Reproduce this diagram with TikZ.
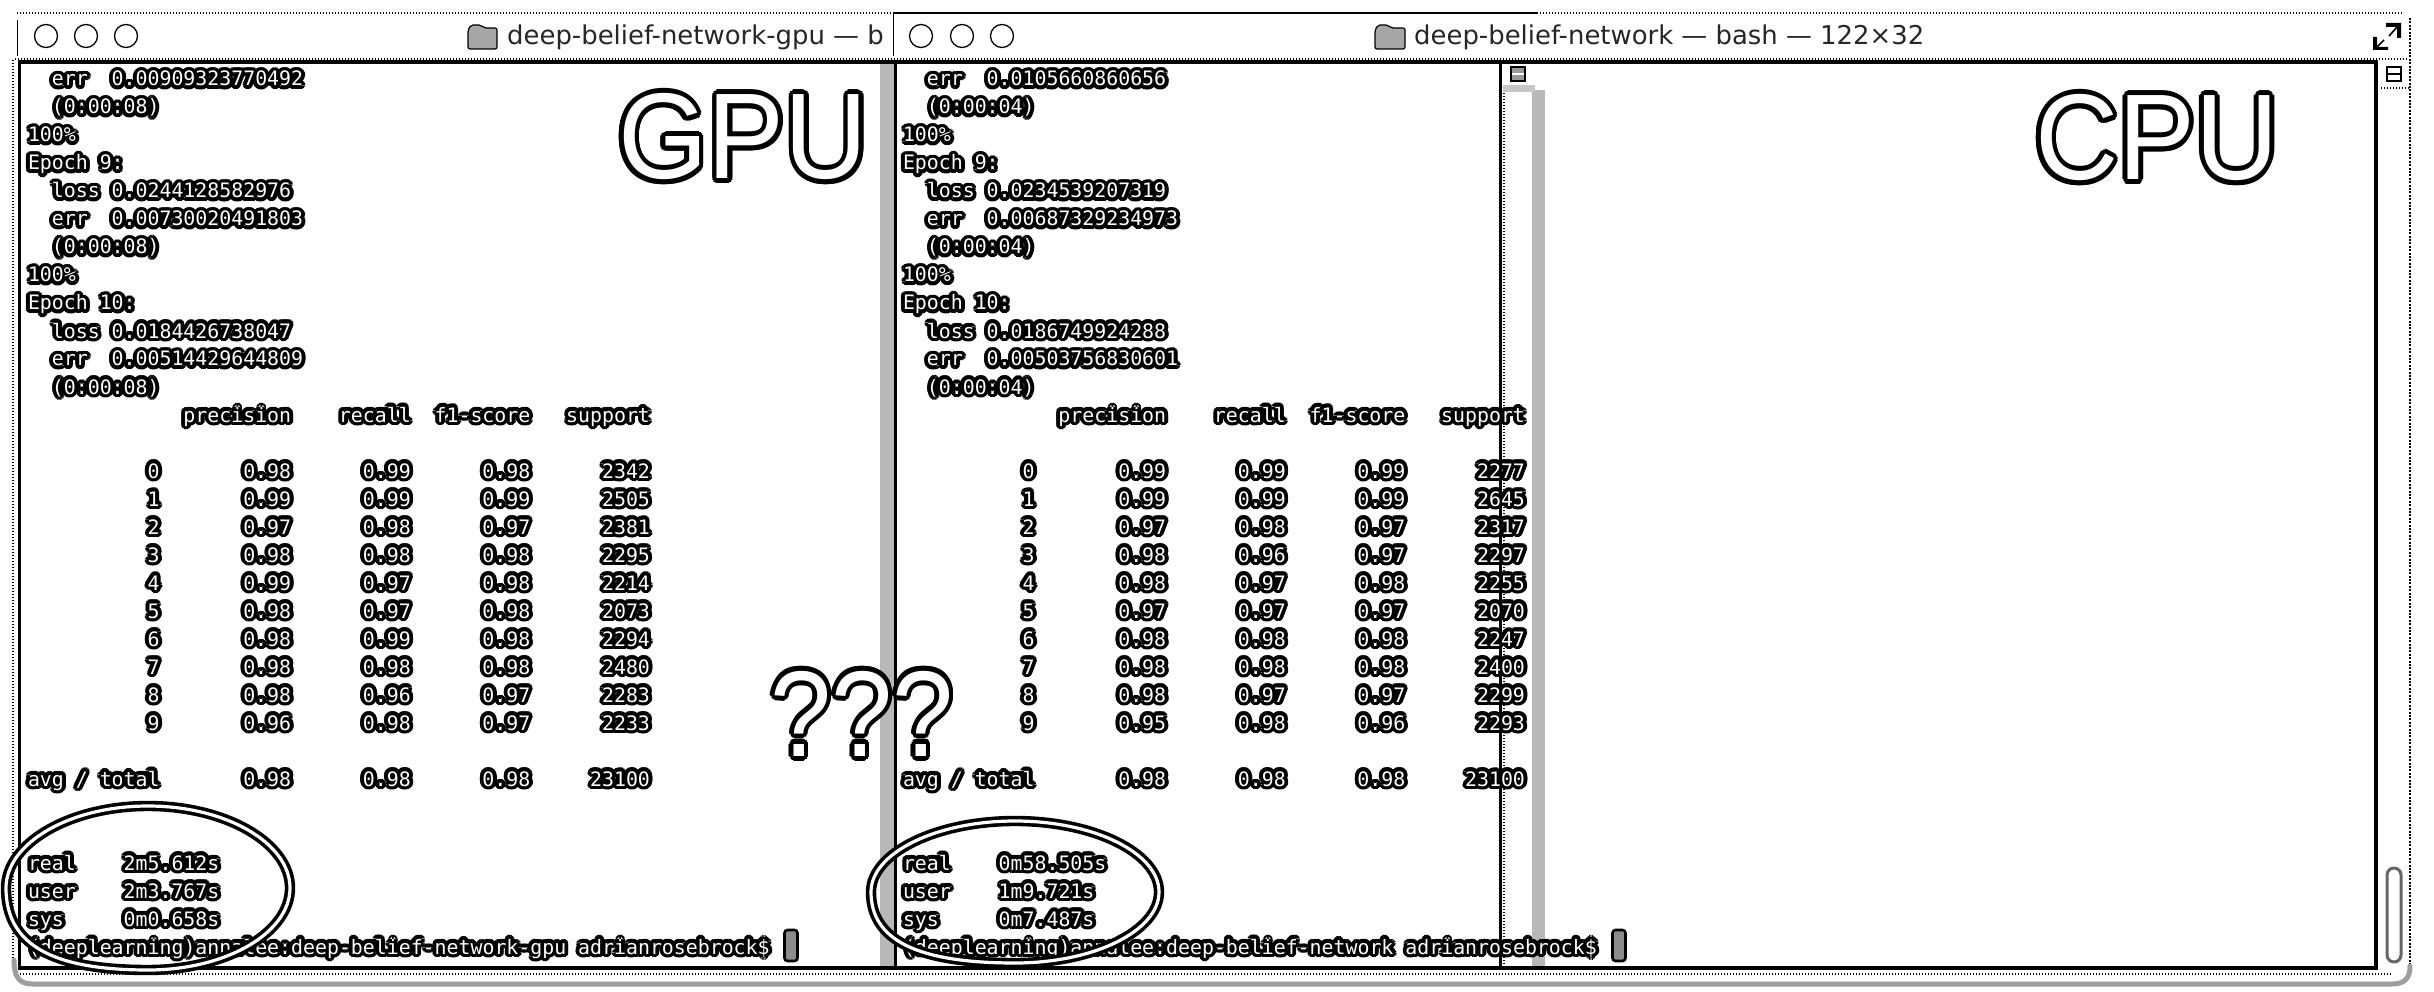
\documentclass[tikz,border=0pt]{standalone}
\usepackage{fontspec}
\setmainfont{Liberation Sans}
\newfontfamily\termfont{DejaVu Sans Mono}
\newfontfamily\titlefont{DejaVu Sans}
\newfontfamily\bigfont{Liberation Sans}
\newdimen\hr
\newcommand\hc[3]{\rlap{\kern#1\raisebox{#2}{#3}}}
\newcommand\halo[2]{{\hr=#1\relax\textcolor{black}{%
 \hc{\hr}{0pt}{#2}\hc{.92\hr}{.38\hr}{#2}\hc{.71\hr}{.71\hr}{#2}\hc{.38\hr}{.92\hr}{#2}%
 \hc{0pt}{\hr}{#2}\hc{-.38\hr}{.92\hr}{#2}\hc{-.71\hr}{.71\hr}{#2}\hc{-.92\hr}{.38\hr}{#2}%
 \hc{-\hr}{0pt}{#2}\hc{-.92\hr}{-.38\hr}{#2}\hc{-.71\hr}{-.71\hr}{#2}\hc{-.38\hr}{-.92\hr}{#2}%
 \hc{0pt}{-\hr}{#2}\hc{.38\hr}{-.92\hr}{#2}\hc{.71\hr}{-.71\hr}{#2}\hc{.92\hr}{-.38\hr}{#2}%
 \hc{.5\hr}{0pt}{#2}\hc{-.5\hr}{0pt}{#2}\hc{0pt}{.5\hr}{#2}\hc{0pt}{-.5\hr}{#2}}%
 \textcolor{white}{#2}}}
\def\pit{11.96}
\tikzset{
 termtext/.style={anchor=base west,inner sep=0pt,outer sep=0pt,font=\termfont\fontsize{19.87}{24}\selectfont},
 titletext/.style={anchor=base west,inner sep=0pt,font=\titlefont\fontsize{25.9}{30}\selectfont,text=black!85},
 bigtext/.style={anchor=base west,inner sep=0pt,font=\bigfont\fontsize{122}{130}\selectfont},
 paneline/.style={line width=3.6pt,black},
 dotline/.style={line width=1.1pt,black,dash pattern=on 1.1pt off 1.9pt},
 ditherstrip/.style={fill=black!28,draw=none},
 ditherband/.style={line width=5pt,black!38,line cap=round},
 light/.style={circle,draw=black,line width=1.3pt,fill=white,minimum size=23pt,inner sep=0pt},
 ringmark/.style={draw=black,line width=3.6pt,double=white,double distance=3.2pt},
 folder/.style={draw=black,line width=1.2pt,fill=black!35,rounded corners=2pt},
 thumb/.style={rounded corners=7pt,draw=black!60,line width=3pt,fill=white},
 cursorbox/.style={draw=black,line width=2.6pt,fill=black!45,rounded corners=3pt,minimum width=13pt,minimum height=31pt,inner sep=0pt},
}
% \cel{name}{x0}{column}{row from the bottom}{text}
\newcommand\cel[5]{\node[termtext] (#1) at ({#2+#3*\pit},{954-28*#4}) {\halo{3.9pt}{#5}};}
% \trow{prefix}{x0}{row}{label}{a}{b}{c}{d}
\newcommand\trow[8]{%
 \cel{#1l}{#2}{10}{#3}{#4}\cel{#1a}{#2}{18}{#3}{#5}\cel{#1b}{#2}{28}{#3}{#6}\cel{#1c}{#2}{38}{#3}{#7}\cel{#1d}{#2}{48}{#3}{#8}}
\begin{document}
\begin{tikzpicture}[x=1pt,y=-1pt]
\useasboundingbox (0,0) rectangle (2434,992);
\fill[white] (0,0) rectangle (2434,992);

% ---- window furniture
\draw[dotline] (17,13) -- (893,13);
\draw[line width=1.3pt] (893,13) -- (1537,13);
\draw[dotline] (1537,13) -- (2403,13);
\draw[dotline] (15,59) -- (2408,59);
\draw[line width=.9pt] (17,20) -- (17,56);
\draw[line width=.9pt] (893,14) -- (893,56);
\draw[dotline] (13,60) -- (13,965);
\draw[dotline,line width=2pt,dash pattern=on 2pt off 1.4pt] (2410,18) -- (2410,966);
\fill[ditherstrip] (880,62) rectangle (893.5,968);
\fill[ditherstrip] (1532,90) rectangle (1545,968);
\draw[dotline] (1504,90) -- (1504,968);
\fill[black!22] (1503,85) rectangle (1535,92);

\node[light] (g1) at (46,36) {};
\node[light] (g2) at (86,36) {};
\node[light] (g3) at (126,36) {};
\node[light] (c1) at (921,36) {};
\node[light] (c2) at (962,36) {};
\node[light] (c3) at (1002,36) {};

\draw[folder] (468,30) -- (471,25) -- (481,25) -- (484,28) -- (497,28) -- (497,49) -- (468,49) -- cycle;
\draw[folder] (1375,30) -- (1378,25) -- (1388,25) -- (1391,28) -- (1405,28) -- (1405,49) -- (1375,49) -- cycle;
\node[titletext] (gtitle) at (507,45) {deep-belief-network-gpu — b};
\node[titletext] (ctitle) at (1414,45) {deep-belief-network — bash — 122×32};

% resize widget
\fill (2386,23) -- (2401,23) -- (2401,38) -- (2397,38) -- (2397,27) -- (2386,27) -- cycle;
\draw[line width=1.6pt] (2398,26) -- (2389,36);
\fill (2373,50) -- (2388,50) -- (2388,47) -- (2377,47) -- (2377,37) -- (2373,37) -- cycle;
\draw[line width=1.6pt] (2376,48) -- (2384,40);

% scroll widgets
\draw[line width=2.4pt,fill=black!40] (1511,67) rectangle (1525,81);
\draw[line width=1.4pt,white] (1512,74) -- (1524,74);
\draw[line width=2.4pt,fill=white] (2387,67) rectangle (2401,81);
\draw[line width=2.4pt] (2387,74) -- (2401,74);
\draw[dotline] (2381,88) -- (2409,88);
\draw[thumb] (2387,868) rectangle (2401,962);

% panes
\draw[paneline] (19.6,62) -- (2376,62);
\draw[paneline] (19.6,60.2) -- (19.6,968) -- (2376,968) -- (2376,60.2);
\draw[paneline] (895.5,62) -- (895.5,968);
\draw[paneline,line width=3pt] (1500.5,62) -- (1500.5,968);
\draw[dotline] (20,974) -- (2392,974);
\draw[ditherband] (14,960) .. controls (14,975) and (18,984) .. (32,984) -- (2392,984) .. controls (2405,984) and (2410,978) .. (2410,966);

% ---- GPU terminal
\def\xa{28}
\cel{ga1}{\xa}{2}{31}{err}\cel{ga2}{\xa}{7}{31}{0.00909323770492}
\cel{ga3}{\xa}{2}{30}{(0:00:08)}
\cel{ga4}{\xa}{0}{29}{100\%}
\cel{ga5}{\xa}{0}{28}{Epoch~9:}
\cel{ga6}{\xa}{2}{27}{loss}\cel{ga7}{\xa}{7}{27}{0.0244128582976}
\cel{ga8}{\xa}{2}{26}{err}\cel{ga9}{\xa}{7}{26}{0.00730020491803}
\cel{ga10}{\xa}{2}{25}{(0:00:08)}
\cel{ga11}{\xa}{0}{24}{100\%}
\cel{ga12}{\xa}{0}{23}{Epoch~10:}
\cel{ga13}{\xa}{2}{22}{loss}\cel{ga14}{\xa}{7}{22}{0.0184426738047}
\cel{ga15}{\xa}{2}{21}{err}\cel{ga16}{\xa}{7}{21}{0.00514429644809}
\cel{ga17}{\xa}{2}{20}{(0:00:08)}
\cel{gh1}{\xa}{13}{19}{precision}\cel{gh2}{\xa}{26}{19}{recall}\cel{gh3}{\xa}{34}{19}{f1-score}\cel{gh4}{\xa}{45}{19}{support}
\trow{gr0}{\xa}{17}{0}{0.98}{0.99}{0.98}{2342}
\trow{gr1}{\xa}{16}{1}{0.99}{0.99}{0.99}{2505}
\trow{gr2}{\xa}{15}{2}{0.97}{0.98}{0.97}{2381}
\trow{gr3}{\xa}{14}{3}{0.98}{0.98}{0.98}{2295}
\trow{gr4}{\xa}{13}{4}{0.99}{0.97}{0.98}{2214}
\trow{gr5}{\xa}{12}{5}{0.98}{0.97}{0.98}{2073}
\trow{gr6}{\xa}{11}{6}{0.98}{0.99}{0.98}{2294}
\trow{gr7}{\xa}{10}{7}{0.98}{0.98}{0.98}{2480}
\trow{gr8}{\xa}{9}{8}{0.98}{0.96}{0.97}{2283}
\trow{gr9}{\xa}{8}{9}{0.96}{0.98}{0.97}{2233}
\cel{gav}{\xa}{0}{6}{avg~/~total}\cel{gava}{\xa}{18}{6}{0.98}\cel{gavb}{\xa}{28}{6}{0.98}\cel{gavc}{\xa}{38}{6}{0.98}\cel{gavd}{\xa}{47}{6}{23100}
\cel{gt1}{\xa}{0}{3}{real}\cel{gt2}{\xa}{8}{3}{2m5.612s}
\cel{gt3}{\xa}{0}{2}{user}\cel{gt4}{\xa}{8}{2}{2m3.767s}
\cel{gt5}{\xa}{0}{1}{sys}\cel{gt6}{\xa}{8}{1}{0m0.658s}
\cel{gp}{\xa}{0}{0}{(deeplearning)annalee:deep-belief-network-gpu~adrianrosebrock\$}
\node[cursorbox] (gcur) at (791,945.5) {};

% ---- CPU terminal
\def\xb{903}
\cel{ca1}{\xb}{2}{31}{err}\cel{ca2}{\xb}{7}{31}{0.0105660860656}
\cel{ca3}{\xb}{2}{30}{(0:00:04)}
\cel{ca4}{\xb}{0}{29}{100\%}
\cel{ca5}{\xb}{0}{28}{Epoch~9:}
\cel{ca6}{\xb}{2}{27}{loss}\cel{ca7}{\xb}{7}{27}{0.0234539207319}
\cel{ca8}{\xb}{2}{26}{err}\cel{ca9}{\xb}{7}{26}{0.00687329234973}
\cel{ca10}{\xb}{2}{25}{(0:00:04)}
\cel{ca11}{\xb}{0}{24}{100\%}
\cel{ca12}{\xb}{0}{23}{Epoch~10:}
\cel{ca13}{\xb}{2}{22}{loss}\cel{ca14}{\xb}{7}{22}{0.0186749924288}
\cel{ca15}{\xb}{2}{21}{err}\cel{ca16}{\xb}{7}{21}{0.00503756830601}
\cel{ca17}{\xb}{2}{20}{(0:00:04)}
\cel{ch1}{\xb}{13}{19}{precision}\cel{ch2}{\xb}{26}{19}{recall}\cel{ch3}{\xb}{34}{19}{f1-score}\cel{ch4}{\xb}{45}{19}{support}
\trow{cr0}{\xb}{17}{0}{0.99}{0.99}{0.99}{2277}
\trow{cr1}{\xb}{16}{1}{0.99}{0.99}{0.99}{2645}
\trow{cr2}{\xb}{15}{2}{0.97}{0.98}{0.97}{2317}
\trow{cr3}{\xb}{14}{3}{0.98}{0.96}{0.97}{2297}
\trow{cr4}{\xb}{13}{4}{0.98}{0.97}{0.98}{2255}
\trow{cr5}{\xb}{12}{5}{0.97}{0.97}{0.97}{2070}
\trow{cr6}{\xb}{11}{6}{0.98}{0.98}{0.98}{2247}
\trow{cr7}{\xb}{10}{7}{0.98}{0.98}{0.98}{2400}
\trow{cr8}{\xb}{9}{8}{0.98}{0.97}{0.97}{2299}
\trow{cr9}{\xb}{8}{9}{0.95}{0.98}{0.96}{2293}
\cel{cav}{\xb}{0}{6}{avg~/~total}\cel{cava}{\xb}{18}{6}{0.98}\cel{cavb}{\xb}{28}{6}{0.98}\cel{cavc}{\xb}{38}{6}{0.98}\cel{cavd}{\xb}{47}{6}{23100}
\cel{ct1}{\xb}{0}{3}{real}\cel{ct2}{\xb}{8}{3}{0m58.505s}
\cel{ct3}{\xb}{0}{2}{user}\cel{ct4}{\xb}{8}{2}{1m9.721s}
\cel{ct5}{\xb}{0}{1}{sys}\cel{ct6}{\xb}{8}{1}{0m7.487s}
\cel{cp}{\xb}{0}{0}{(deeplearning)annalee:deep-belief-network~adrianrosebrock\$}
\node[cursorbox] (ccur) at (1619,945.5) {};

% ---- big outlined labels
\node[bigtext] (gpu) at (618,179) {\scalebox{.945}[1]{\halo{5pt}{GPU}}};
\node[bigtext] (cpu) at (2035,180) {\scalebox{.945}[1]{\halo{5pt}{CPU}}};
\node[bigtext] (qq) at (770,756) {\scalebox{.9}[1]{\halo{5pt}{???}}};

% ---- hand-drawn rings, fuller towards the lower left
\draw[ringmark] (6,888) .. controls (6,843) and (70,806) .. (148,806)
  .. controls (226,806) and (290,843) .. (290,888)
  .. controls (290,933) and (226,970) .. (148,970)
  .. controls (51,970) and (6,944) .. (6,888) -- cycle;
\draw[ringmark] (871,892) .. controls (871,853) and (936,821) .. (1015,821)
  .. controls (1094,821) and (1159,853) .. (1159,892)
  .. controls (1159,931) and (1094,963) .. (1015,963)
  .. controls (917,963) and (871,940) .. (871,892) -- cycle;
\end{tikzpicture}
\end{document}
